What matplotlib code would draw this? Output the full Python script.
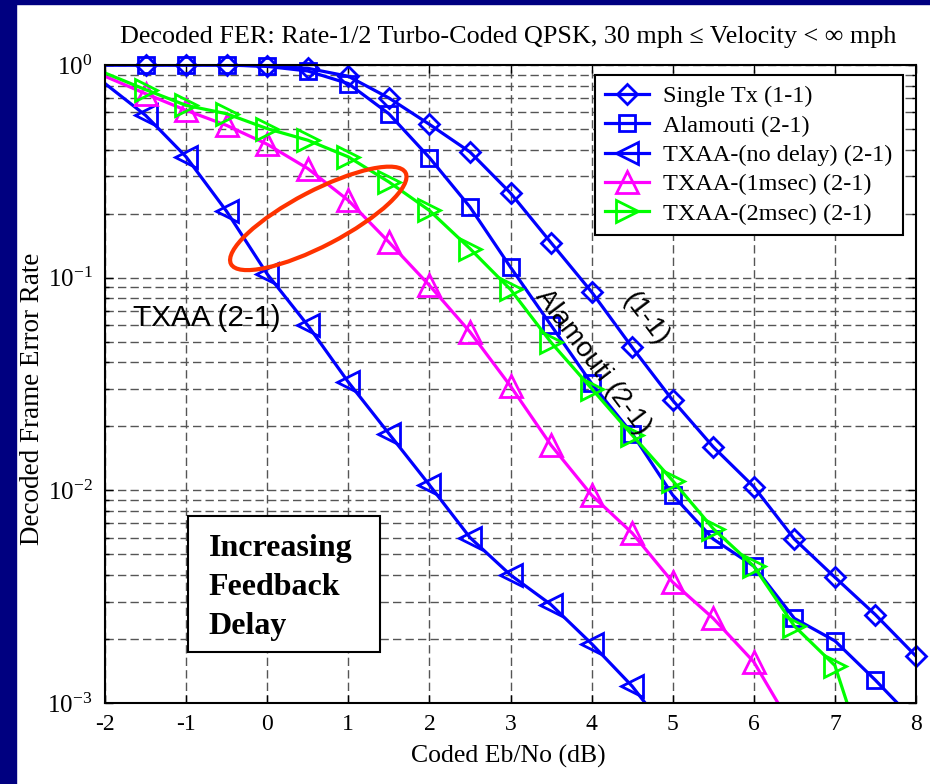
import numpy as np
import matplotlib
matplotlib.use("Agg")
import matplotlib.pyplot as plt
import matplotlib.transforms as mtransforms
from matplotlib.lines import Line2D
from matplotlib.patches import Ellipse, Rectangle

plt.rcParams['font.family'] = ['Liberation Serif', 'DejaVu Serif']
plt.rcParams['font.size'] = 17
plt.rcParams['axes.unicode_minus'] = False

# ----------- DATA -----------------------------------
ebno = [-2, -1.5, -1, -0.5, 0, 0.5, 1, 1.5, 2, 2.5, 3, 3.5, 4, 4.5, 5,
        5.5, 6, 6.5, 7, 7.5, 8]

fer_single = [1.0, 1.0, 1.0, 1.0, 0.99, 0.965, 0.885, 0.70, 0.526, 0.39,
              0.25, 0.146, 0.0857, 0.047, 0.0265, 0.016, 0.0104, 0.0059,
              0.0039, 0.0026, 0.00166]
fer_alamouti = [1.0, 1.0, 1.0, 1.0, 0.985, 0.937, 0.818, 0.59, 0.367, 0.215,
                0.112, 0.0597, 0.0318, 0.0185, 0.0095, 0.0059, 0.0044,
                0.0025, 0.00196, 0.00128, 0.00081]
fer_txaa0 = [0.818, 0.58, 0.37, 0.205, 0.104, 0.0597, 0.0323, 0.0185,
             0.0106, 0.0060, 0.0040, 0.0029, 0.0019, 0.0012, 0.00068]
fer_txaa1 = [0.885, 0.733, 0.612, 0.52, 0.424, 0.326, 0.231, 0.147, 0.092,
             0.0556, 0.0309, 0.0163, 0.0095, 0.0063, 0.0037, 0.0025,
             0.00156, 0.00074]
fer_txaa2 = [0.917, 0.766, 0.646, 0.59, 0.502, 0.443, 0.37, 0.282, 0.207,
             0.137, 0.088, 0.0496, 0.0301, 0.0182, 0.0111, 0.0066, 0.0044,
             0.0023, 0.0015, 0.00039]

labels = ['Single Tx (1-1)', 'Alamouti (2-1)', 'TXAA-(no delay) (2-1)',
          'TXAA-(1msec) (2-1)', 'TXAA-(2msec) (2-1)']
colors = ['#0000ff', '#0000ff', '#0000ff', '#ff00ff', '#00ff00']
markers = ['D', 's', '<', '^', '>']
msizes = [10.5, 11.5, 16, 16, 16]
all_fer = [fer_single, fer_alamouti, fer_txaa0, fer_txaa1, fer_txaa2]

# ----------- FIGURE ------------
fig = plt.figure(figsize=(9.3, 7.84), dpi=100, facecolor='white')
navy = '#000080'
fig.patches.append(Rectangle((0, 0), 16 / 930, 1, transform=fig.transFigure,
                             color=navy, zorder=0))
fig.patches.append(Rectangle((0, 1 - 4 / 784), 1, 4 / 784,
                             transform=fig.transFigure, color=navy, zorder=0))

ax = fig.add_axes([105 / 930, 1 - 703 / 784, 811 / 930, 638 / 784])
ax.set_yscale('log')

handles = []
for vals, lab, col, mk, ms in zip(all_fer, labels, colors, markers, msizes):
    x = np.array(ebno[:len(vals)])
    y = np.array(vals)
    ax.plot(x, y, color=col, lw=2.3, zorder=2)
    keep = (x > -2) & (y >= 1e-3)
    ax.plot(x[keep], y[keep], ls='none', marker=mk, ms=ms, mfc='none',
            mec=col, mew=2, clip_on=False, zorder=2)
    handles.append(Line2D([], [], color=col, lw=2.3, marker=mk, ms=ms,
                          mfc='none', mec=col, mew=2, label=lab))

ax.set_xlim(-2, 8)
ax.set_ylim(1e-3, 1)
ax.set_xticks(range(-2, 9))

dash = (0, (6, 3))
ax.grid(True, which='major', ls=dash, color='#555555', lw=1)
ax.grid(True, which='minor', axis='y', ls=dash, color='#555555', lw=1)
ax.set_axisbelow(True)

ax.tick_params(which='both', direction='in', top=True, right=True, width=1)
ax.tick_params(which='major', length=6)
ax.tick_params(which='minor', length=3)
ax.tick_params(axis='y', pad=9, labelsize=18)
ax.tick_params(axis='x', pad=8, labelsize=17)
for sp in ax.spines.values():
    sp.set_linewidth(1.5)

leg = ax.legend(handles=handles, loc='upper right',
                bbox_to_anchor=(0.984, 0.984), borderaxespad=0,
                fontsize=17.5, fancybox=False, framealpha=1,
                edgecolor='black', handlelength=1.8, handletextpad=0.6,
                labelspacing=0.3, borderpad=0.42)
leg.get_frame().set_linewidth(1.5)

# ----------- ANNOTATIONS ------------
ax.text(-1.655, 0.0644, 'TXAA (2-1)', family='Liberation Sans', fontsize=21.5,
        ha='left', va='center')
ax.text(4.02, 0.040, 'Alamouti (2-1)', family='Liberation Sans', fontsize=20,
        rotation=-53, rotation_mode='anchor', ha='center', va='center')
ax.text(4.66, 0.0644, '(1-1)', family='Liberation Sans', fontsize=20,
        rotation=-53, rotation_mode='anchor', ha='center', va='center')

ell_tr = fig.dpi_scale_trans + mtransforms.ScaledTranslation(0.63, 0.19,
                                                            ax.transData)
ax.add_patch(Ellipse((0, 0), width=1.97, height=0.55, angle=27.6,
                     transform=ell_tr, fill=False, ec='#ff3300', lw=3,
                     zorder=4))

ax.add_patch(Rectangle((0.102, 0.080), 0.237, 0.213, transform=ax.transAxes,
                       fc='white', ec='black', lw=1.5, zorder=3))
ax.text(0.128, 0.181, 'Increasing\nFeedback\nDelay', transform=ax.transAxes,
        fontsize=23, weight='bold', ha='left', va='center', linespacing=1.45,
        zorder=4)

ax.set_xlim(-2, 8)
ax.set_ylim(1e-3, 1)

fig.text(508 / 930, 1 - 43.5 / 784,
         'Decoded FER: Rate-1/2 Turbo-Coded QPSK, 30 mph \u2264 Velocity < \u221e mph',
         ha='center', va='baseline', fontsize=18.8)
fig.text(508 / 930, 1 - 763 / 784, 'Coded Eb/No (dB)', ha='center',
         va='baseline', fontsize=18.5)
fig.text(32.5 / 930, 1 - 399 / 784, 'Decoded Frame Error Rate', rotation=90,
         ha='center', va='center', fontsize=19.5)

fig.savefig('out.png', dpi=100, facecolor=fig.get_facecolor())
